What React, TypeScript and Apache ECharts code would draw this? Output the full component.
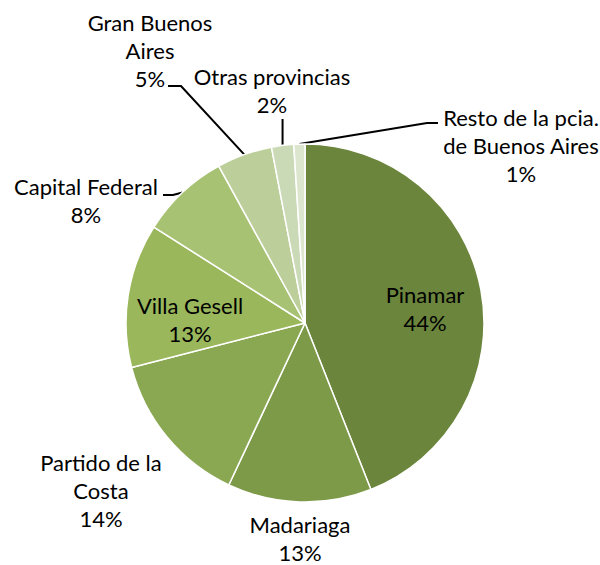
import React, { useEffect, useRef } from 'react';
import * as echarts from 'echarts';

// Data
const categories = [
  'Pinamar',
  'Madariaga',
  'Partido de la\nCosta',
  'Villa Gesell',
  'Capital Federal',
  'Gran Buenos\nAires',
  'Otras provincias',
  'Resto de la pcia.\nde Buenos Aires',
];
const shares = [44, 13, 14, 13, 8, 5, 2, 1];

// Styling
const colors = ['#6B853D', '#7D9A48', '#8AA752', '#9AB75C', '#A8C274', '#BCCF9B', '#CBDAB6', '#DCE5CE'];
const insideIdx = [0, 3];
const noLineIdx = [0, 1, 2, 3];
const labelCenters: number[][] = [
  [425, 308],
  [300, 538],
  [101, 490],
  [190, 319],
  [86, 200],
  [150, 50],
  [272, 90],
  [521, 145],
];
const leaderBends: Record<number, number[][]> = {
  4: [[173, 195], [163, 195]],
  5: [[181, 86], [168, 86]],
  6: [[0, 130], [0, 119]],
  7: [[427, 123], [438, 123]],
};

export default function App() {
  const ref = useRef<HTMLDivElement>(null);
  useEffect(() => {
    document.body.style.margin = '0';
    if (!ref.current) return;
    const chart = echarts.init(ref.current, undefined, { renderer: 'svg' });
    const data = categories.map((name, i) => ({
      name,
      value: shares[i],
      itemStyle: { color: colors[i] },
      labelLine: {
        show: !noLineIdx.includes(i),
        lineStyle: { color: '#000000', width: 2, opacity: 1 },
      },
      label: { position: insideIdx.includes(i) ? 'inside' : 'outside' },
    }));
    chart.setOption({
      animation: false,
      backgroundColor: '#ffffff',
      series: [
        {
          type: 'pie',
          center: [305, 323],
          radius: 179,
          startAngle: 90,
          clockwise: true,
          avoidLabelOverlap: false,
          itemStyle: { borderColor: '#ffffff', borderWidth: 1.5 },
          label: {
            show: true,
            formatter: (p: any) => `${p.name}\n${p.value}%`,
            fontFamily: 'Lato, "Noto Sans", sans-serif',
            fontSize: 22,
            lineHeight: 28,
            color: '#000000',
            align: 'center',
          },
          labelLine: { show: true, lineStyle: { color: '#000000', width: 2 }, length: 10, length2: 10 },
          labelLayout: (params: any) => {
            const i = params.dataIndex;
            const [x, y] = labelCenters[i];
            const res: any = { x, y, align: 'center', verticalAlign: 'middle' };
            const bends = leaderBends[i];
            if (bends && params.labelLinePoints) {
              const p0 = params.labelLinePoints[0];
              const pts = i === 6 ? bends.map((b) => [p0[0], b[1]]) : bends;
              res.labelLinePoints = [p0, ...pts];
            }
            return res;
          },
          data,
        },
      ],
    });
    return () => chart.dispose();
  }, []);
  return <div ref={ref} style={{ width: 600, height: 565 }} />;
}
